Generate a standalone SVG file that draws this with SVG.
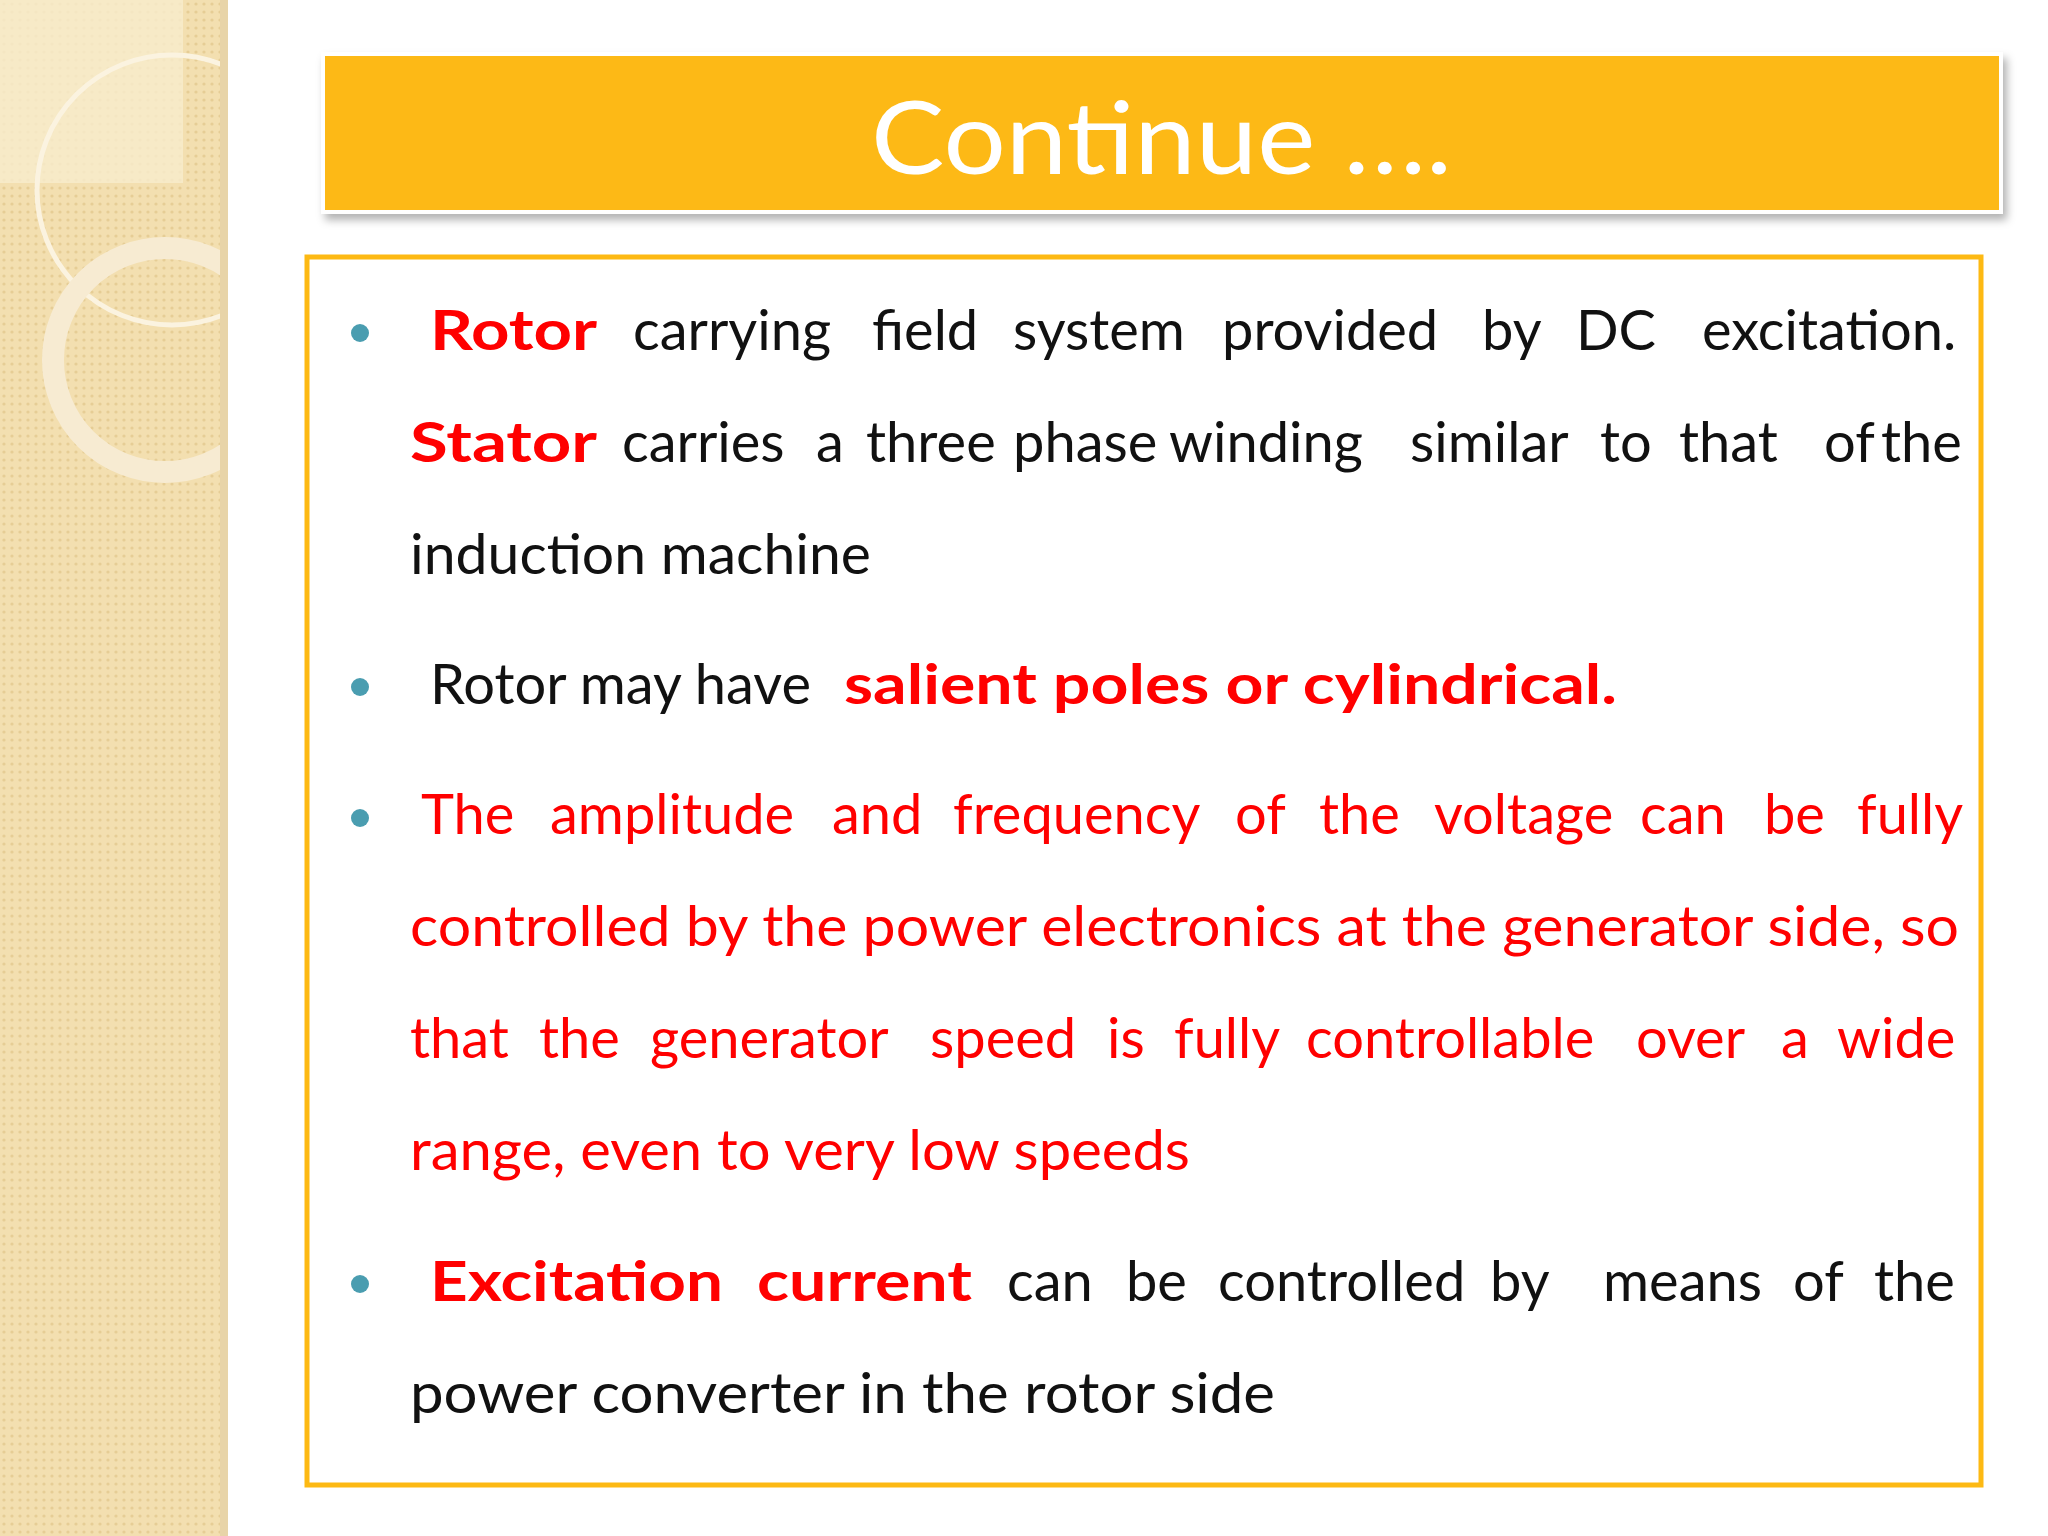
<svg xmlns="http://www.w3.org/2000/svg" width="2048" height="1536" viewBox="0 0 2048 1536">
<defs>
<pattern id="dots" width="8" height="8" patternUnits="userSpaceOnUse">
<rect width="8" height="8" fill="#F3DFB0"/><circle cx="4" cy="4" r="1.6" fill="#E6CD95"/>
</pattern>
<clipPath id="sb"><rect x="0" y="0" width="222" height="1536"/></clipPath>
<filter id="sh" x="-5%" y="-20%" width="110%" height="150%"><feDropShadow dx="4" dy="6" stdDeviation="4" flood-color="#000" flood-opacity="0.3"/></filter>
</defs>
<style>
text{font-family:Lato,"Open Sans","Liberation Sans",sans-serif;font-size:56px;fill:#111}
.r{fill:#FF0000}
.b{font-weight:bold}
.bul{fill:#4A9DB0}
</style>
<rect width="2048" height="1536" fill="#fff"/>
<g id="sidebar">
<rect x="0" y="0" width="226" height="1536" fill="url(#dots)"/>
<g clip-path="url(#sb)">
<rect x="0" y="0" width="183" height="183" fill="#F8ECCD" opacity="0.8"/>
<circle cx="172" cy="190" r="135" fill="none" stroke="#FBF3E0" stroke-width="5"/>
<circle cx="165" cy="360" r="112" fill="none" stroke="#F7EBD2" stroke-width="22"/>
</g>
<rect x="220" y="0" width="8" height="1536" fill="#E8D4A8"/>
</g>
<g id="title">
<rect x="323" y="54" width="1678" height="158" fill="#FDB913" stroke="#fff" stroke-width="4" filter="url(#sh)"/>
<text x="871" y="174" textLength="581" lengthAdjust="spacingAndGlyphs" style="font-size:100px;fill:#fff">Continue ….</text>
</g>
<g id="content">
<rect x="307" y="257" width="1674" height="1228" fill="#fff" stroke="#FDB913" stroke-width="5"/>
<circle class="bul" cx="360" cy="333" r="9"/>
<circle class="bul" cx="360" cy="687" r="9"/>
<circle class="bul" cx="360" cy="818" r="9"/>
<circle class="bul" cx="360" cy="1284" r="9"/>
<text y="350"><tspan x="430" class="r b" textLength="167" lengthAdjust="spacingAndGlyphs">Rotor</tspan><tspan x="633">carrying</tspan><tspan x="872">field</tspan><tspan x="1013">system</tspan><tspan x="1222">provided</tspan><tspan x="1482">by</tspan><tspan x="1576">DC</tspan><tspan x="1702">excitation.</tspan></text>
<text y="462"><tspan x="410" class="r b" textLength="187" lengthAdjust="spacingAndGlyphs">Stator</tspan><tspan x="622">carries</tspan><tspan x="816">a</tspan><tspan x="866">three</tspan><tspan x="1013">phase</tspan><tspan x="1169">winding</tspan><tspan x="1410">similar</tspan><tspan x="1600">to</tspan><tspan x="1679">that</tspan><tspan x="1824">of</tspan><tspan x="1881">the</tspan></text>
<text x="410" y="574" textLength="461" lengthAdjust="spacingAndGlyphs">induction machine</text>
<text y="704"><tspan x="430">Rotor may have</tspan><tspan x="844" class="r b" textLength="773" lengthAdjust="spacingAndGlyphs">salient poles or cylindrical.</tspan></text>
<text class="r" y="834"><tspan x="421">The</tspan><tspan x="550">amplitude</tspan><tspan x="832">and</tspan><tspan x="953">frequency</tspan><tspan x="1235">of</tspan><tspan x="1319">the</tspan><tspan x="1434">voltage</tspan><tspan x="1640">can</tspan><tspan x="1764">be</tspan><tspan x="1857">fully</tspan></text>
<text class="r" x="410" y="946" textLength="1549" lengthAdjust="spacingAndGlyphs">controlled by the power electronics at the generator side, so</text>
<text class="r" y="1058"><tspan x="410">that</tspan><tspan x="539">the</tspan><tspan x="650">generator</tspan><tspan x="930">speed</tspan><tspan x="1107">is</tspan><tspan x="1174">fully</tspan><tspan x="1306">controllable</tspan><tspan x="1636">over</tspan><tspan x="1781">a</tspan><tspan x="1837">wide</tspan></text>
<text class="r" x="410" y="1170" textLength="780" lengthAdjust="spacingAndGlyphs">range, even to very low speeds</text>
<text y="1301"><tspan x="430" class="r b" textLength="293" lengthAdjust="spacingAndGlyphs">Excitation</tspan><tspan x="757" class="r b" textLength="215" lengthAdjust="spacingAndGlyphs">current</tspan><tspan x="1007">can</tspan><tspan x="1126">be</tspan><tspan x="1218">controlled</tspan><tspan x="1490">by</tspan><tspan x="1603">means</tspan><tspan x="1793">of</tspan><tspan x="1874">the</tspan></text>
<text x="410" y="1413" textLength="865" lengthAdjust="spacingAndGlyphs">power converter in the rotor side</text>
</g>
</svg>
